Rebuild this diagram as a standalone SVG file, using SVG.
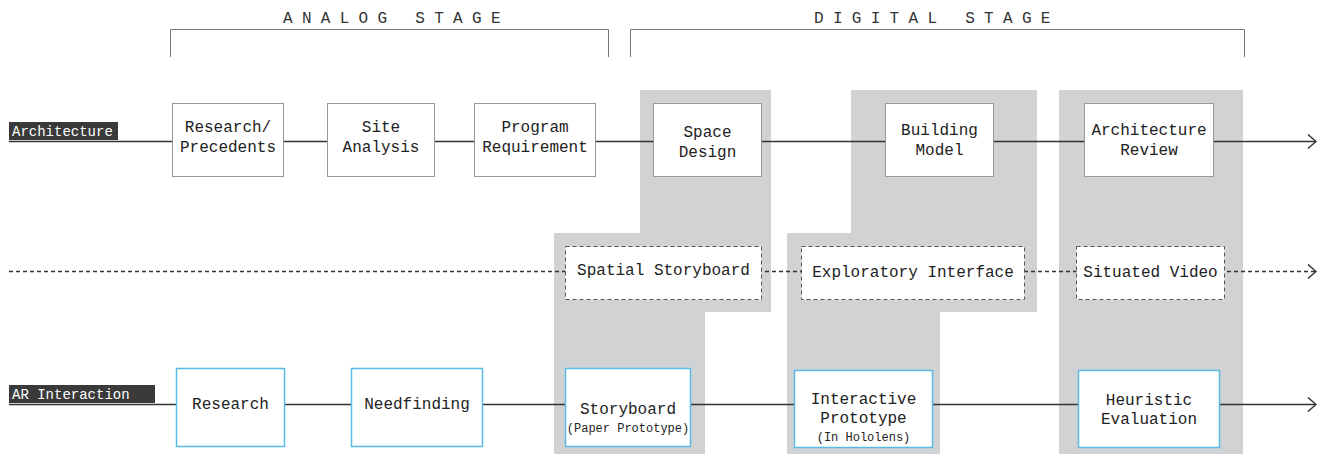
<svg xmlns="http://www.w3.org/2000/svg" width="1323" height="454" viewBox="0 0 1323 454">
<defs>
<style>
text{font-family:"Liberation Mono","DejaVu Sans Mono",monospace;fill:#222;}
.t{font-size:16px;text-anchor:middle;}
.s{font-size:12px;text-anchor:middle;}
.title{font-size:16px;letter-spacing:9.3px;fill:#333;}
.lbl{font-size:14px;fill:#fff;}
.lblbox{fill:#3a3a3a;}
.box{fill:#fff;stroke:#999;stroke-width:1;}
.dbox{fill:#fff;stroke:#555;stroke-width:1;stroke-dasharray:4 3;}
.bbox{fill:#fff;stroke:#5bbbe3;stroke-width:1.5;}
.gray{fill:#d1d2d4;}
.ln{stroke:#333;stroke-width:1.6;fill:none;}
.dln{stroke:#333;stroke-width:1.6;fill:none;stroke-dasharray:4 3;}
.br{stroke:#777;stroke-width:1;fill:none;}
</style>
<marker id="arr" viewBox="0 0 10 16" refX="9" refY="8" markerWidth="10" markerHeight="16" markerUnits="userSpaceOnUse" orient="auto">
<path d="M1 1 L9 8 L1 15" fill="none" stroke="#333" stroke-width="1.5"/>
</marker>
</defs>

<g id="stages">
<text class="title" x="283" y="23">ANALOG STAGE</text>
<path class="br" d="M170.5 57 V29.5 H608.5 V57"/>
<text class="title" x="814" y="23">DIGITAL STAGE</text>
<path class="br" d="M630.5 57 V29.5 H1244.5 V57"/>
</g>

<g id="backgrounds">
<path class="gray" d="M640 90 H771 V312 H705 V454 H554 V233 H640 Z"/>
<path class="gray" d="M851 90 H1037 V312 H940 V454 H787 V233 H851 Z"/>
<rect class="gray" x="1059" y="90" width="184" height="364"/>
</g>

<g id="connectors">
<line class="ln" x1="9" y1="141.5" x2="1316" y2="141.5" marker-end="url(#arr)"/>
<line class="dln" x1="9" y1="271.5" x2="1316" y2="271.5" marker-end="url(#arr)"/>
<line class="ln" x1="9" y1="404.5" x2="1316" y2="404.5" marker-end="url(#arr)"/>
</g>

<g id="lane-architecture">
<rect class="lblbox" x="9" y="122" width="109" height="18"/>
<text class="lbl" x="12" y="136">Architecture</text>
</g>
<g id="lane-ar">
<rect class="lblbox" x="9" y="385" width="146" height="18"/>
<text class="lbl" x="12" y="399">AR Interaction</text>
</g>

<g id="n-research-precedents">
<rect class="box" x="172.5" y="103.5" width="111" height="73"/>
<text class="t" x="228" y="132">Research/</text>
<text class="t" x="228" y="152">Precedents</text>
</g>
<g id="n-site-analysis">
<rect class="box" x="327.5" y="103.5" width="107" height="73"/>
<text class="t" x="381" y="132">Site</text>
<text class="t" x="381" y="152">Analysis</text>
</g>
<g id="n-program-requirement">
<rect class="box" x="474.5" y="103.5" width="121" height="73"/>
<text class="t" x="535" y="132">Program</text>
<text class="t" x="535" y="152">Requirement</text>
</g>
<g id="n-space-design">
<rect class="box" x="653.5" y="103.5" width="108" height="73"/>
<text class="t" x="707.5" y="137">Space</text>
<text class="t" x="707.5" y="157">Design</text>
</g>
<g id="n-building-model">
<rect class="box" x="885.5" y="103.5" width="108" height="73"/>
<text class="t" x="939.5" y="135">Building</text>
<text class="t" x="939.5" y="155">Model</text>
</g>
<g id="n-architecture-review">
<rect class="box" x="1084.5" y="103.5" width="129" height="73"/>
<text class="t" x="1149" y="135">Architecture</text>
<text class="t" x="1149" y="155">Review</text>
</g>

<g id="n-spatial-storyboard">
<rect class="dbox" x="565.5" y="246.5" width="196" height="53"/>
<text class="t" x="663.5" y="275">Spatial Storyboard</text>
</g>
<g id="n-exploratory-interface">
<rect class="dbox" x="801.5" y="246.5" width="223" height="53"/>
<text class="t" x="913" y="277">Exploratory Interface</text>
</g>
<g id="n-situated-video">
<rect class="dbox" x="1076.5" y="246.5" width="148" height="53"/>
<text class="t" x="1150.5" y="277">Situated Video</text>
</g>

<g id="n-research">
<rect class="bbox" x="176.5" y="368.5" width="108" height="78"/>
<text class="t" x="230.5" y="409">Research</text>
</g>
<g id="n-needfinding">
<rect class="bbox" x="351.5" y="368.5" width="131" height="78"/>
<text class="t" x="417" y="409">Needfinding</text>
</g>
<g id="n-storyboard">
<rect class="bbox" x="565.5" y="368.5" width="125" height="78"/>
<text class="t" x="628" y="414">Storyboard</text>
<text class="s" x="628" y="432">(Paper Prototype)</text>
</g>
<g id="n-interactive-prototype">
<rect class="bbox" x="794.5" y="370.5" width="138" height="77"/>
<text class="t" x="863.5" y="404">Interactive</text>
<text class="t" x="863.5" y="423">Prototype</text>
<text class="s" x="863.5" y="441">(In Hololens)</text>
</g>
<g id="n-heuristic-evaluation">
<rect class="bbox" x="1078.5" y="370.5" width="141" height="77"/>
<text class="t" x="1149" y="405">Heuristic</text>
<text class="t" x="1149" y="424">Evaluation</text>
</g>
</svg>
